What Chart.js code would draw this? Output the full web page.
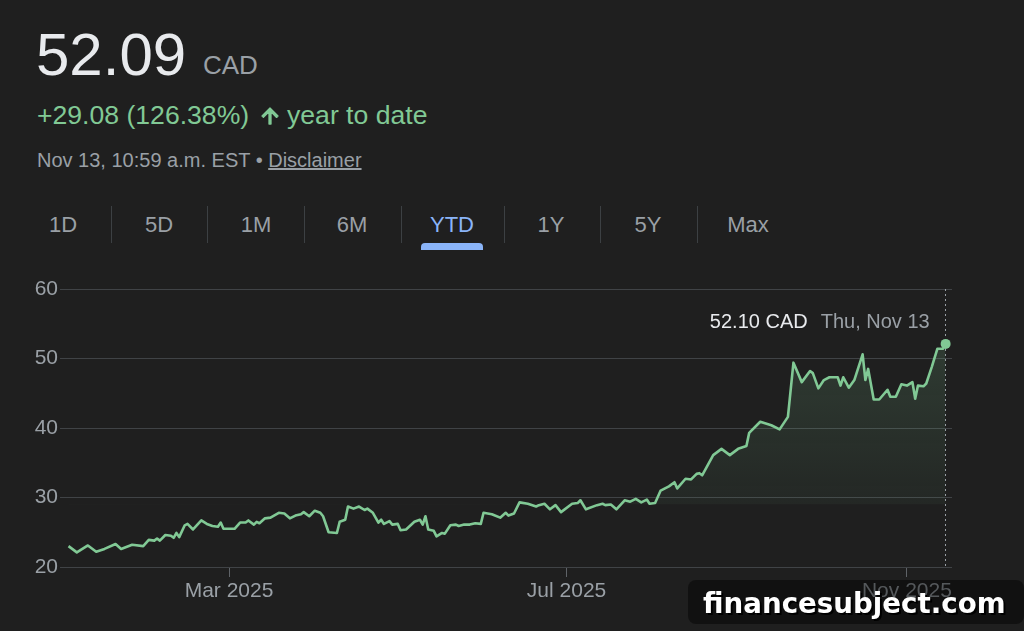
<!DOCTYPE html>
<html><head><meta charset="utf-8">
<script src="https://cdn.jsdelivr.net/npm/chart.js@4/dist/chart.umd.min.js"></script>
<style>
html,body{margin:0;padding:0;background:#1f1f1f;}
#wrap{position:relative;width:1024px;height:631px;overflow:hidden;background:#1f1f1f;}
#cw{position:absolute;left:0;top:0;width:1024px;height:631px;}
svg{position:absolute;left:0;top:0;}
</style></head><body>
<div id="wrap">
<svg id="hdr" width="1024" height="631" font-family="'Liberation Sans', Arial, Helvetica, sans-serif">
  <text x="36" y="75" font-size="60" fill="#e8eaed">52.09</text>
  <text x="203" y="74" font-size="26" fill="#9aa0a6">CAD</text>
  <text x="37" y="124" font-size="26.6" fill="#81c995">+29.08 (126.38%)</text>
  <path transform="translate(258,104)" d="M4 12l1.41 1.41L11 7.83V20h2V7.83l5.58 5.59L20 12l-8-8-8 8z" fill="#81c995" stroke="#81c995" stroke-width="1.3" stroke-linejoin="round"/>
  <text x="287" y="124" font-size="26.6" fill="#81c995">year to date</text>
  <text x="37" y="167" font-size="20" fill="#9aa0a6">Nov 13, 10:59 a.m. EST • <tspan text-decoration="underline">Disclaimer</tspan></text>
  <g font-size="22" fill="#9aa0a6" text-anchor="middle">
    <text x="63" y="232">1D</text>
    <text x="159" y="232">5D</text>
    <text x="256" y="232">1M</text>
    <text x="352" y="232">6M</text>
    <text x="452" y="232" fill="#8ab4f8">YTD</text>
    <text x="551" y="232">1Y</text>
    <text x="648" y="232">5Y</text>
    <text x="748" y="232">Max</text>
  </g>
  <g stroke="#3c4043" stroke-width="1">
    <line x1="111.5" y1="206" x2="111.5" y2="243"/>
    <line x1="207.5" y1="206" x2="207.5" y2="243"/>
    <line x1="304.5" y1="206" x2="304.5" y2="243"/>
    <line x1="401.5" y1="206" x2="401.5" y2="243"/>
    <line x1="504.5" y1="206" x2="504.5" y2="243"/>
    <line x1="600.5" y1="206" x2="600.5" y2="243"/>
    <line x1="697.5" y1="206" x2="697.5" y2="243"/>
  </g>
  <path d="M421 250 V247 Q421 243 425 243 H479 Q483 243 483 247 V250 Z" fill="#8ab4f8"/>
</svg>
<div id="cw"><canvas id="c"></canvas></div>
<svg id="wm" width="1024" height="631">
  <rect x="688" y="580" width="336" height="44" rx="8" ry="8" fill="rgba(0,0,0,0.45)"/>
  <text x="705" y="615" font-family="'DejaVu Sans', sans-serif" font-weight="bold" font-size="27.7" fill="#000">financesubject.com</text>
  <text x="703" y="613" font-family="'DejaVu Sans', sans-serif" font-weight="bold" font-size="27.7" fill="#ffffff">financesubject.com</text>
</svg>
</div>
<script>
// Day of year (Jan 1 = 0) for each plotted close
const days = [
  1,4,8,11,14,18,20,24,28,30,
  32,33,34,36,38,39,40,41,43,44,
  46,49,51,53,55,56,57,61,63,65,
  66,68,69,70,72,74,77,79,81,83,
  85,86,88,90,92,93,95,98,99,101,
  102,104,106,108,109,111,113,114,115,117,
  118,120,121,123,126,128,129,130,131,133,
  134,136,137,139,141,142,144,146,148,150,
  151,154,157,159,160,162,164,167,170,171,
  173,175,177,179,183,185,186,188,192,194,
  195,197,199,202,204,206,208,210,211,213,
  215,218,220,221,224,226,228,229,230,234,
  237,240,243,246,247,251,255,258,261,263,
  266,269,270,272,274,276,279,280,281,283,
  285,288,289,290,292,294,297,298,300,302,
  304,306,307,308,310,311,313,315,317,318
];
// Price in CAD
const prices = [
  23.0,22.1,23.1,22.2,22.6,23.3,22.6,23.2,23.0,23.9,
  23.8,24.1,23.8,24.6,24.5,24.2,24.9,24.3,26.0,26.2,
  25.4,26.7,26.2,25.9,25.8,26.4,25.5,25.5,26.4,26.4,
  26.7,26.1,26.5,26.3,27.0,27.1,27.8,27.7,27.0,27.4,
  27.6,27.9,27.3,28.1,27.8,27.3,25.0,24.9,26.5,26.8,
  28.7,28.4,28.7,28.2,28.4,27.8,26.4,26.8,26.2,26.6,
  26.1,26.2,25.3,25.4,26.5,26.8,26.1,27.3,25.4,25.2,
  24.4,24.9,24.8,26.0,26.1,25.9,26.1,26.1,26.3,26.2,
  27.8,27.6,27.1,27.8,27.4,27.7,29.3,29.1,28.7,28.9,
  29.1,28.3,28.9,27.9,29.1,29.2,29.6,28.3,28.9,29.1,
  28.9,29.0,28.3,29.6,29.4,29.8,29.3,29.7,29.1,29.2,
  31.0,31.6,32.2,31.3,32.7,32.6,33.4,33.5,33.2,36.1,
  37.0,36.1,37.0,37.4,39.3,40.9,40.4,39.8,41.6,49.4,
  46.6,48.2,47.9,45.7,46.9,47.3,47.3,46.1,47.3,45.8,
  46.9,50.6,46.9,48.5,44.1,44.1,45.5,44.5,44.5,46.3,
  46.1,46.6,44.2,46.1,46.0,46.4,48.8,51.4,51.4,52.1
];
const tickDays = [59, 181, 304];
const tickLabels = ['Mar 2025', 'Jul 2025', 'Nov 2025'];
const yTicks = [20, 30, 40, 50, 60];
const hoverPrice = '52.10 CAD';
const hoverDate = 'Thu, Nov 13';

const FONT = "'Liberation Sans', Arial, Helvetica, sans-serif";

const endMarker = {
  id: 'endMarker',
  beforeDatasetsDraw(chart) {
    const meta = chart.getDatasetMeta(0);
    const pt = meta.data[meta.data.length - 1];
    const { ctx, chartArea } = chart;
    ctx.save();
    ctx.strokeStyle = '#9aa0a6';
    ctx.lineWidth = 1;
    ctx.setLineDash([2, 3]);
    const x = Math.round(pt.x) - 0.5;
    ctx.beginPath();
    ctx.moveTo(x, chartArea.top);
    ctx.lineTo(x, chartArea.bottom);
    ctx.stroke();
    ctx.restore();
  },
  afterDatasetsDraw(chart) {
    const meta = chart.getDatasetMeta(0);
    const pt = meta.data[meta.data.length - 1];
    const { ctx, chartArea } = chart;
    ctx.save();
    ctx.font = '20px ' + FONT;
    ctx.textAlign = 'right';
    ctx.textBaseline = 'alphabetic';
    const xr = pt.x - 16;
    const yb = chartArea.top + 39;
    ctx.fillStyle = '#9aa0a6';
    ctx.fillText(hoverDate, xr, yb);
    const w = ctx.measureText(hoverDate).width;
    ctx.fillStyle = '#e8eaed';
    ctx.fillText(hoverPrice, xr - w - 13, yb);
    ctx.restore();
  }
};

const last = days.length - 1;
new Chart(document.getElementById('c'), {
  type: 'line',
  data: {
    datasets: [{
      data: days.map((d, i) => ({ x: d, y: prices[i] })),
      borderColor: '#81c995',
      borderWidth: 2.6,
      borderJoinStyle: 'round',
      tension: 0,
      fill: { target: { value: 29 }, below: 'rgba(0,0,0,0)' },
      backgroundColor: (c) => {
        const ch = c.chart;
        if (!ch.chartArea) return 'rgba(0,0,0,0)';
        const ys = ch.scales.y;
        const g = ch.ctx.createLinearGradient(0, ys.getPixelForValue(52), 0, ys.getPixelForValue(29));
        g.addColorStop(0, 'rgba(129,201,149,0.17)');
        g.addColorStop(1, 'rgba(129,201,149,0.05)');
        return g;
      },
      pointRadius: (c) => c.dataIndex === last ? 5 : 0,
      pointHoverRadius: 0,
      pointBackgroundColor: '#81c995',
      pointBorderWidth: 0
    }]
  },
  options: {
    responsive: true,
    maintainAspectRatio: false,
    animation: false,
    events: [],
    layout: { padding: { top: 289, right: 72, left: 0, bottom: 0 } },
    plugins: { legend: { display: false }, tooltip: { enabled: false } },
    scales: {
      x: {
        type: 'linear',
        min: -2.08,
        max: 320.3,
        border: { display: false },
        grid: { drawOnChartArea: false, drawTicks: true, tickLength: 10, tickColor: '#5f6368', lineWidth: 1 },
        afterBuildTicks: (s) => { s.ticks = tickDays.map(v => ({ value: v })); },
        afterFit: (s) => { s.height = 64; },
        ticks: {
          color: '#9aa0a6',
          padding: 2,
          maxRotation: 0,
          autoSkip: false,
          font: { family: FONT, size: 21 },
          callback: (v, i) => tickLabels[i]
        }
      },
      y: {
        min: 20,
        max: 60,
        border: { display: false },
        grid: { color: '#404346', drawTicks: false, lineWidth: 1 },
        afterBuildTicks: (s) => { s.ticks = yTicks.map(v => ({ value: v })); },
        afterFit: (s) => { s.width = 60; },
        ticks: {
          color: '#9aa0a6',
          padding: 2,
          font: { family: FONT, size: 21 },
          callback: (v) => String(v)
        }
      }
    }
  },
  plugins: [endMarker]
});
</script>
</body></html>
